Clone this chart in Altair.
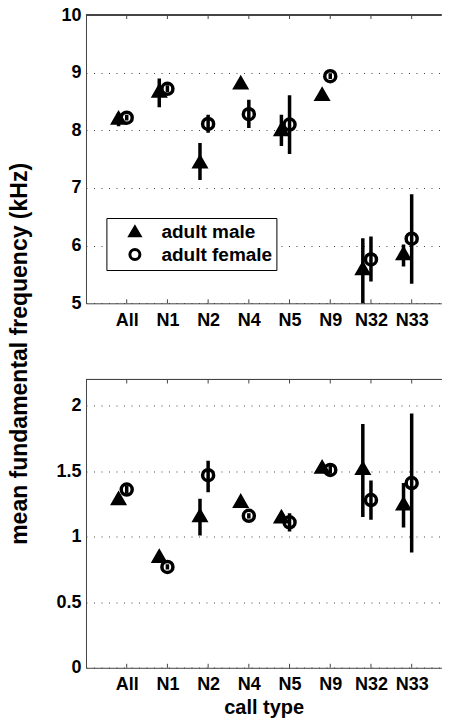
import altair as alt
import pandas as pd

categories = ["All", "N1", "N2", "N4", "N5", "N9", "N32", "N33"]
series = ["adult male", "adult female"]

# top panel: mean fundamental frequency (kHz)
top_male_mean = [8.21, 8.68, 7.45, 8.82, 8.01, 8.62, 5.60, 5.86]
top_male_lo = [8.07, 8.40, 7.14, 8.78, 7.73, 8.55, 4.90, 5.64]
top_male_hi = [8.30, 8.90, 7.78, 8.86, 8.27, 8.68, 6.13, 6.02]
top_female_mean = [8.22, 8.72, 8.11, 8.28, 8.10, 8.94, 5.76, 6.12]
top_female_lo = [8.17, 8.66, 7.96, 8.04, 7.59, 8.89, 5.38, 5.34]
top_female_hi = [8.27, 8.78, 8.27, 8.53, 8.61, 8.99, 6.16, 6.89]

# bottom panel
bot_male_mean = [1.29, 0.85, 1.16, 1.27, 1.15, 1.53, 1.52, 1.25]
bot_male_lo = [1.26, 0.83, 1.01, 1.25, 1.12, 1.50, 1.15, 1.07]
bot_male_hi = [1.32, 0.87, 1.29, 1.29, 1.18, 1.56, 1.86, 1.41]
bot_female_mean = [1.36, 0.77, 1.47, 1.16, 1.11, 1.51, 1.28, 1.41]
bot_female_lo = [1.33, 0.75, 1.34, 1.14, 1.04, 1.48, 1.13, 0.88]
bot_female_hi = [1.39, 0.79, 1.58, 1.18, 1.18, 1.54, 1.43, 1.94]

top_ticks = [5, 6, 7, 8, 9, 10]
bot_ticks = [0, 0.5, 1, 1.5, 2]

FONT = "Liberation Sans"
W = 355.4
H = 288.3
OFFSETS = {"adult male": -0.2, "adult female": 0.0}


def make_df(mm, ml, mh, fm, fl, fh):
    rows = []
    for i, c in enumerate(categories):
        for s, m, lo, hi in (("adult male", mm[i], ml[i], mh[i]),
                             ("adult female", fm[i], fl[i], fh[i])):
            rows.append({"cat": c, "series": s, "pos": i + 1 + OFFSETS[s],
                         "mean": m, "lo": lo, "hi": hi})
    return pd.DataFrame(rows)


top_df = make_df(top_male_mean, top_male_lo, top_male_hi,
                 top_female_mean, top_female_lo, top_female_hi)
bot_df = make_df(bot_male_mean, bot_male_lo, bot_male_hi,
                 bot_female_mean, bot_female_lo, bot_female_hi)
tick_df = pd.DataFrame({"pos": list(range(1, len(categories) + 1))})

xscale = alt.Scale(domain=[0, 8.73], nice=False, zero=False)
label_expr = "[" + ",".join("'%s'" % c for c in categories) + "][datum.value - 1]"


def panel(df, ydomain, yvalues, xtitle, show_legend):
    yscale = alt.Scale(domain=ydomain, nice=False, zero=False)
    xaxis = alt.Axis(values=list(range(1, len(categories) + 1)), labelExpr=label_expr,
                     grid=False, ticks=False, labelPadding=8, labelFlush=False,
                     labelOverlap=False, title=xtitle if xtitle else "", titlePadding=4)
    yaxis = alt.Axis(values=yvalues, format="~r", grid=True, ticks=False,
                     labelPadding=5, title="", labelOverlap=False)
    base = alt.Chart(df)
    bars = base.mark_rule(color="black", strokeWidth=3.5, clip=True).encode(
        x=alt.X("pos:Q", scale=xscale, axis=xaxis),
        y=alt.Y("lo:Q", scale=yscale, axis=yaxis),
        y2="hi:Q",
    )
    if show_legend:
        leg = alt.Legend(title=None, orient="none", legendX=20.4, legendY=203,
                         strokeColor="black", fillColor="white", padding=4,
                         symbolOffset=15, labelFontSize=19, labelFont=FONT,
                         labelFontWeight="bold", labelColor="black",
                         symbolSize=100, symbolStrokeWidth=3, labelOffset=17,
                         rowPadding=1, cornerRadius=0, symbolOpacity=1,
                         labelExpr="datum.label + '  '")
    else:
        leg = None
    pts = base.mark_point(strokeWidth=3.5, size=121, opacity=1,
                          clip=True).encode(
        x=alt.X("pos:Q", scale=xscale, axis=xaxis),
        y=alt.Y("mean:Q", scale=yscale, axis=yaxis),
        shape=alt.Shape("series:N", sort=series,
                        scale=alt.Scale(domain=series, range=["triangle-up", "circle"]),
                        legend=leg),
        fill=alt.Fill("series:N", sort=series,
                      scale=alt.Scale(domain=series, range=["black", "transparent"]),
                      legend=leg),
        stroke=alt.Stroke("series:N", sort=series,
                          scale=alt.Scale(domain=series, range=["black", "black"]),
                          legend=leg),
    )
    border = alt.Chart(tick_df).mark_rule(color="#444", strokeWidth=1).encode(
        x=alt.value(0), x2=alt.value(W), y=alt.value(0))
    tticks = alt.Chart(tick_df).mark_rule(color="#444", strokeWidth=1).encode(
        x=alt.X("pos:Q", scale=xscale, axis=xaxis), y=alt.value(0), y2=alt.value(4))
    bticks = alt.Chart(tick_df).mark_rule(color="#444", strokeWidth=1).encode(
        x=alt.X("pos:Q", scale=xscale, axis=xaxis), y=alt.value(H), y2=alt.value(H - 4))
    return alt.layer(bars, pts, border, tticks, bticks).properties(width=W, height=H)


top = panel(top_df, [5, 10], top_ticks, None, True)
bottom = panel(bot_df, [0, 2.2], bot_ticks, "call type", False)

chart = alt.vconcat(top, bottom, spacing=48.5).properties(
    title=alt.TitleParams("mean fundamental frequency (kHz)", orient="left",
                          anchor="middle", fontSize=23, font=FONT,
                          fontWeight="bold", color="black", offset=24, dx=8),
    padding={"left": 0, "top": -2, "right": 0, "bottom": 0},
).configure_view(strokeWidth=0).configure_axis(
    domainColor="#444", domainWidth=1,
    labelFont=FONT, labelFontSize=18, labelFontWeight="bold", labelColor="black",
    titleFont=FONT, titleFontSize=20, titleFontWeight="bold", titleColor="black",
    gridColor="#444", gridDash=[1, 6.5], gridWidth=1,
)

chart.save("out.html", embed_options={"renderer": "svg", "actions": False})
